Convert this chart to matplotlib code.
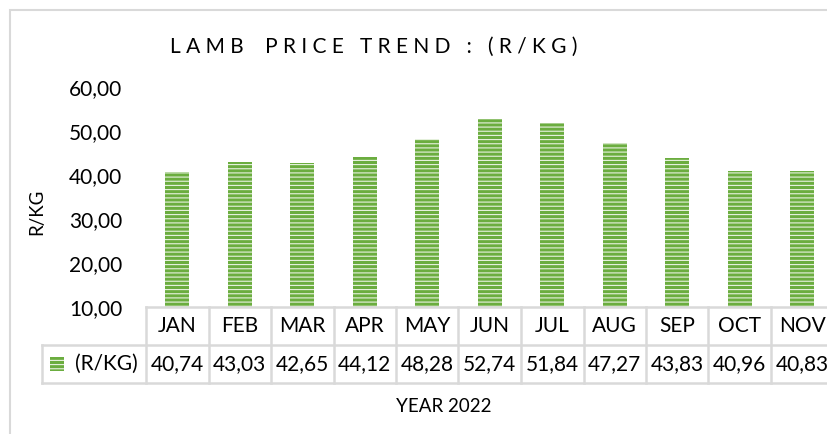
import matplotlib
matplotlib.use('Agg')
import matplotlib.pyplot as plt
from matplotlib.patches import Rectangle

months = ['JAN', 'FEB', 'MAR', 'APR', 'MAY', 'JUN', 'JUL', 'AUG', 'SEP', 'OCT', 'NOV']
prices = [40.74, 43.03, 42.65, 44.12, 48.28, 52.74, 51.84, 47.27, 43.83, 40.96, 40.83]
y_ticks = [10, 20, 30, 40, 50, 60]
series_name = '(R/KG)'

W, H = 827, 434
plt.rcParams['font.family'] = ['Lato', 'DejaVu Sans']
plt.rcParams['hatch.linewidth'] = 0.8
plt.rcParams['hatch.color'] = '#E8F2E0'

fig = plt.figure(figsize=(W / 100, H / 100), dpi=100)

# chart frame (runs off the right/bottom edge like the screenshot)
fig.patches.append(Rectangle((10 / W, -0.2), 2, 1 - 10 / H + 0.2, transform=fig.transFigure,
                             fill=False, edgecolor='#D9D9D9', linewidth=1.5))

# plot area: left edge at 146px, 11 columns of ~62.5px
col_w = 62.5
left_px, top_px, bot_px = 146, 87, 307
ax = fig.add_axes([left_px / W, 1 - bot_px / H, col_w * len(months) / W, (bot_px - top_px) / H])

x = range(len(months))
ax.bar(x, [p - 10 for p in prices], bottom=10, width=0.38, color='#6BAD3F',
       edgecolor='#E8F2E0', linewidth=0, hatch='----')
ax.set_xlim(-0.5, len(months) - 0.5)
ax.set_ylim(10, 60)
ax.set_yticks(y_ticks)
ax.set_yticklabels([f'{v:.2f}'.replace('.', ',') for v in y_ticks], fontsize=15)
ax.tick_params(axis='y', length=0, pad=17)
ax.set_xticks([])
for s in ax.spines.values():
    s.set_visible(False)

# data table under the plot
row_h = 38 / (bot_px - top_px)
tr = ax.get_xaxis_transform()
gc = '#D9D9D9'
legend_left = -0.5 - (left_px - 42) / col_w
ax.plot([-0.5, len(months) - 0.5], [0, 0], transform=tr, color=gc, lw=1.8, clip_on=False)
for yy in (-row_h, -2 * row_h):
    ax.plot([legend_left, len(months) - 0.5], [yy, yy], transform=tr, color=gc, lw=1.8, clip_on=False)
for i in range(len(months) + 1):
    ax.plot([i - 0.5, i - 0.5], [0, -2 * row_h], transform=tr, color=gc, lw=1.8, clip_on=False)
ax.plot([legend_left, legend_left], [-row_h, -2 * row_h], transform=tr, color=gc, lw=1.8, clip_on=False)

for i, (m, p) in enumerate(zip(months, prices)):
    ax.text(i, -0.5 * row_h, m, transform=tr, ha='center', va='center', fontsize=15)
    ax.text(i, -1.5 * row_h, f'{p:.2f}'.replace('.', ','), transform=tr, ha='center', va='center', fontsize=15)

# legend key in the table
key_x = legend_left + 8 / col_w
ax.add_patch(Rectangle((key_x, -1.5 * row_h - 0.03), 14 / col_w, 0.06, transform=tr, clip_on=False,
                       facecolor='#6BAD3F', edgecolor='#E8F2E0', linewidth=0, hatch='----'))
ax.text(legend_left + 33 / col_w, -1.5 * row_h, series_name, transform=tr, ha='left', va='center', fontsize=15)

fig.text(444 / W, 1 - 406 / H, 'YEAR 2022', ha='center', va='center', fontsize=13.5)
fig.text(37 / W, 1 - 212 / H, 'R/KG', ha='center', va='center', rotation=90, fontsize=13.5)
fig.text(374 / W, 1 - 47 / H, 'L A M B    P R I C E   T R E N D   :   ( R / K G )',
         ha='center', va='center', fontsize=15)

fig.savefig('out.png', dpi=100)
